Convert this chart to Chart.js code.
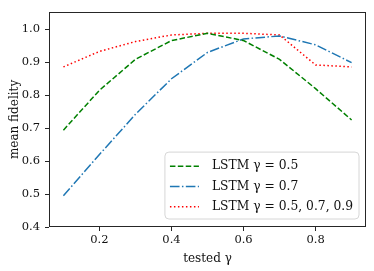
<!DOCTYPE html>
<html>
<head>
<meta charset="utf-8">
<script src="https://cdn.jsdelivr.net/npm/chart.js@4/dist/chart.umd.min.js"></script>
<style>
html,body{margin:0;padding:0;background:#fff;}
#wrap{width:374px;height:271px;}
</style>
</head>
<body>
<div id="wrap"><canvas id="c" width="374" height="271"></canvas></div>
<script>
const gammas = [0.1, 0.2, 0.3, 0.4, 0.5, 0.6, 0.7, 0.8, 0.9];
const lstm05 = [0.694, 0.815, 0.909, 0.966, 0.988, 0.966, 0.909, 0.820, 0.725];
const lstm07 = [0.495, 0.620, 0.742, 0.850, 0.930, 0.971, 0.980, 0.953, 0.899];
const lstmAll = [0.886, 0.933, 0.963, 0.983, 0.988, 0.988, 0.983, 0.892, 0.886];
const seriesLabels = ['LSTM \u03b3 = 0.5', 'LSTM \u03b3 = 0.7', 'LSTM \u03b3 = 0.5, 0.7, 0.9'];
const xTicks = [0.2, 0.4, 0.6, 0.8];
const yTicks = [0.4, 0.5, 0.6, 0.7, 0.8, 0.9, 1.0];
const xLabel = 'tested \u03b3';
const yLabel = 'mean fidelity';

const FONT = 'DejaVu Serif';
const FS = 11.5;
const FS_TITLE = 12;
const FS_LEGEND = 12.3;

function pts(ys){ return gammas.map((g,i)=>({x:g, y:ys[i]})); }

const framePlugin = {
  id: 'frame',
  afterDatasetsDraw(chart){
    const a = chart.chartArea, ctx = chart.ctx;
    ctx.save();
    ctx.strokeStyle = '#262626';
    ctx.lineWidth = 1;
    ctx.strokeRect(Math.round(a.left)+0.5, Math.round(a.top)+0.5, Math.round(a.right-a.left)-1, Math.round(a.bottom-a.top)-1);
    ctx.restore();
  }
};

const legendPlugin = {
  id: 'innerLegend',
  afterDraw(chart){
    const a = chart.chartArea, ctx = chart.ctx;
    ctx.save();
    ctx.font = FS_LEGEND + 'px "' + FONT + '"';
    const ds = chart.data.datasets;
    let tw = 0;
    ds.forEach(d=>{ tw = Math.max(tw, ctx.measureText(d.label).width); });
    const padL = 5, handle = 29, gap = 13, padR = 6, rowH = 20.3, padT = 2;
    const w = padL + handle + gap + tw + padR;
    const h = padT*2 + rowH*ds.length + 2;
    const x0 = a.right - 7 - w, y0 = a.bottom - 8 - h;
    const r = 4;
    ctx.beginPath();
    ctx.moveTo(x0+r, y0);
    ctx.arcTo(x0+w, y0, x0+w, y0+h, r);
    ctx.arcTo(x0+w, y0+h, x0, y0+h, r);
    ctx.arcTo(x0, y0+h, x0, y0, r);
    ctx.arcTo(x0, y0, x0+w, y0, r);
    ctx.closePath();
    ctx.fillStyle = 'rgba(255,255,255,0.8)';
    ctx.fill();
    ctx.strokeStyle = '#d6d6d6';
    ctx.lineWidth = 1;
    ctx.stroke();
    ds.forEach((d,i)=>{
      const cy = y0 + padT + 1 + rowH*(i+0.5) + 1;
      ctx.beginPath();
      ctx.setLineDash(d.borderDash || []);
      ctx.strokeStyle = d.borderColor;
      ctx.lineWidth = d.borderWidth;
      ctx.moveTo(x0+padL, cy);
      ctx.lineTo(x0+padL+handle, cy);
      ctx.stroke();
      ctx.setLineDash([]);
      ctx.fillStyle = '#111';
      ctx.textBaseline = 'middle';
      ctx.textAlign = 'left';
      ctx.fillText(d.label, x0+padL+handle+gap, cy);
    });
    ctx.restore();
  }
};

new Chart(document.getElementById('c'), {
  type: 'line',
  data: {
    datasets: [
      {label: seriesLabels[0], data: pts(lstm05), borderColor:'#008000', borderDash:[5.5,2.4], borderWidth:1.5, pointRadius:0, fill:false, tension:0},
      {label: seriesLabels[1], data: pts(lstm07), borderColor:'#1f77b4', borderDash:[9.6,2.4,1.5,2.4], borderWidth:1.5, pointRadius:0, fill:false, tension:0},
      {label: seriesLabels[2], data: pts(lstmAll), borderColor:'#ff0000', borderDash:[1.5,2.5], borderWidth:1.5, pointRadius:0, fill:false, tension:0}
    ]
  },
  options: {
    responsive: false,
    animation: false,
    layout: {padding: {left: 0, right: 8, top: 6, bottom: 0}},
    plugins: {legend: {display: false}, tooltip: {enabled: false}},
    scales: {
      x: {
        type: 'linear', min: 0.06, max: 0.94,
        afterBuildTicks(s){ s.ticks = xTicks.map(v=>({value:v})); },
        afterFit(s){ s.height = 44; },
        grid: {drawOnChartArea:false, drawTicks:true, tickLength:4, color:'#262626'},
        border: {display:false},
        ticks: {color:'#111', font:{family:FONT, size:FS}, padding:2, maxRotation:0, callback:(v)=>v.toFixed(1)},
        title: {display:true, text:xLabel, color:'#111', font:{family:FONT, size:FS_TITLE}, padding:{top:0,bottom:5}}
      },
      y: {
        type: 'linear', min: 0.4, max: 1.053,
        afterBuildTicks(s){ s.ticks = yTicks.map(v=>({value:v})); },
        afterFit(s){ s.width = 49; },
        grid: {drawOnChartArea:false, drawTicks:true, tickLength:4, color:'#262626'},
        border: {display:false},
        ticks: {color:'#111', font:{family:FONT, size:FS}, padding:5, callback:(v)=>v.toFixed(1)},
        title: {display:true, text:yLabel, color:'#111', font:{family:FONT, size:FS_TITLE}, padding:{top:8,bottom:0}}
      }
    }
  },
  plugins: [framePlugin, legendPlugin]
});
</script>
</body>
</html>
